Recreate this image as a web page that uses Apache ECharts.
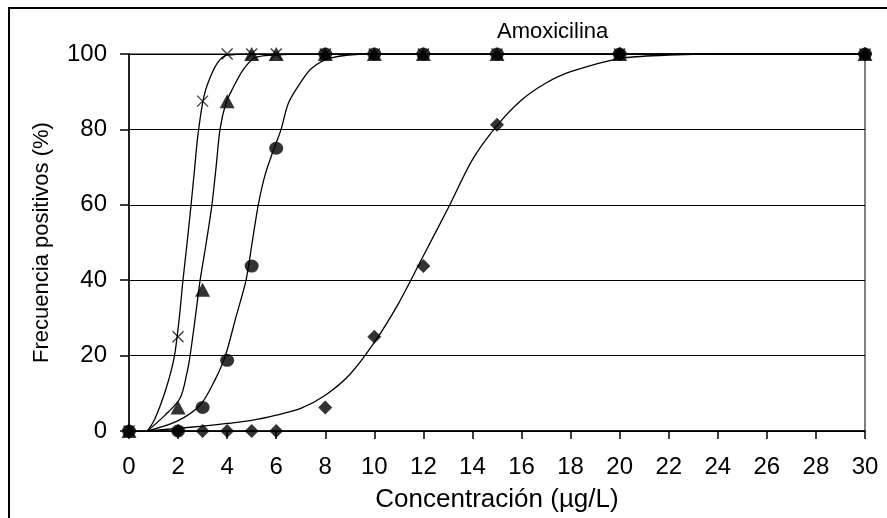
<!DOCTYPE html>
<html>
<head>
<meta charset="utf-8">
<script src="https://cdn.jsdelivr.net/npm/echarts@6/dist/echarts.min.js"></script>
<style>
html, body { margin: 0; padding: 0; background: #fff; }
#chart { width: 887px; height: 518px; }
</style>
</head>
<body>
<div id="chart"></div>
<script>
// concentraciones ensayadas (µg/L)
var concs = [0, 2, 3, 4, 5, 6, 8, 10, 12, 15, 20, 30];

// frecuencia de positivos (%) por serie
var crossVals    = [0, 25, 87.5, 100, 100, 100, 100, 100, 100, 100, 100, 100];
var triangleVals = [0, 6.25, 37.5, 87.5, 100, 100, 100, 100, 100, 100, 100, 100];
var circleVals   = [0, 0, 6.25, 18.75, 43.75, 75, 100, 100, 100, 100, 100, 100];
var diamondVals  = [0, 0, 0, 0, 0, 0, 6.25, 25, 43.75, 81.25, 100, 100];

// curvas ajustadas [x, y]
var crossCurve = [[0.75, 0], [1.0, 2.5], [1.26, 6.5], [1.5, 11], [1.72, 16], [1.88, 21],
  [2.05, 30], [2.2, 40], [2.37, 50], [2.53, 60], [2.68, 70], [2.8, 78], [3.0, 87], [3.2, 92],
  [3.6, 97.6], [4.0, 99.7], [5, 100], [30, 100]];
var triangleCurve = [[0.75, 0], [1.47, 4.2], [2.08, 8.7], [2.35, 15], [2.49, 20], [2.7, 30],
  [2.9, 40], [3.15, 50], [3.38, 60], [3.55, 70], [3.71, 80], [3.95, 87], [4.2, 90.5],
  [4.65, 95.8], [5.14, 99], [5.9, 99.7], [7, 100], [30, 100]];
var circleCurve = [[0.75, 0], [1.96, 2.6], [2.9, 6.9], [3.5, 13.5], [3.93, 20], [4.35, 30],
  [4.77, 40], [5.02, 50], [5.27, 60], [5.55, 68], [5.9, 74.7], [6.2, 80], [6.5, 87],
  [7.05, 93], [7.46, 96.3], [8.2, 98.9], [9.8, 100], [30, 100]];
var diamondCurve = [[0.75, 0], [2, 0.7], [3, 1.3], [4, 2], [5, 2.8], [6, 4.2], [7, 6],
  [8, 9.5], [9, 15], [10, 23.5], [11, 34], [12, 46.5], [13, 59], [14, 72], [15, 81],
  [16, 87.8], [17, 92.3], [18, 95.3], [20, 98.8], [22, 99.7], [24, 100], [30, 100]];

var FONT = 'Liberation Sans';

function pairs(vals) {
  var out = [];
  for (var i = 0; i < concs.length; i++) {
    out.push([concs[i], vals[i]]);
  }
  return out;
}

function curve(data) {
  return {
    type: 'line',
    data: data,
    smooth: 0.3,
    showSymbol: false,
    silent: true,
    lineStyle: { color: '#000', width: 1.3 },
    z: 2
  };
}

function marks(vals, symbol, size, hollow) {
  return {
    type: 'scatter',
    data: pairs(vals),
    symbol: symbol,
    symbolSize: size,
    itemStyle: hollow
      ? { color: 'none', borderColor: '#000', borderWidth: 1.2 }
      : { color: '#000' },
    z: 3
  };
}

var chart = echarts.init(document.getElementById('chart'));
chart.setOption({
  animation: false,
  backgroundColor: '#fff',
  textStyle: { fontFamily: FONT, color: '#000' },
  title: {
    text: 'Amoxicilina',
    left: 492,
    top: 16,
    textStyle: { fontFamily: FONT, fontSize: 22, fontWeight: 'normal', color: '#000' }
  },
  graphic: [{
    type: 'rect',
    shape: { x: 9, y: 8, width: 920, height: 560 },
    style: { fill: 'none', stroke: '#000', lineWidth: 2 },
    silent: true
  }],
  grid: {
    left: 129, right: 22, top: 54, bottom: 85,
    show: true, borderColor: '#000', borderWidth: 1
  },
  xAxis: {
    type: 'value',
    min: 0, max: 30, interval: 2,
    name: 'Concentración (µg/L)',
    nameLocation: 'middle',
    nameGap: 56,
    nameTextStyle: { fontFamily: FONT, fontSize: 26, color: '#000' },
    axisLine: { show: true, lineStyle: { color: '#000', width: 1.5 } },
    axisTick: { show: true, length: 8, lineStyle: { color: '#000', width: 1.5 } },
    axisLabel: { fontFamily: FONT, fontSize: 24, color: '#000', margin: 24 },
    splitLine: { show: false }
  },
  yAxis: {
    type: 'value',
    min: 0, max: 100, interval: 20,
    name: 'Frecuencia positivos (%)',
    nameLocation: 'middle',
    nameGap: 76,
    nameTextStyle: { fontFamily: FONT, fontSize: 22, color: '#000' },
    axisLine: { show: true, lineStyle: { color: '#000', width: 1.5 } },
    axisTick: { show: true, length: 9, lineStyle: { color: '#000', width: 1.5 } },
    axisLabel: { fontFamily: FONT, fontSize: 24, color: '#000', margin: 22 },
    splitLine: { show: true, lineStyle: { color: '#000', width: 1.2 } }
  },
  series: [
    curve(diamondCurve),
    curve(circleCurve),
    curve(triangleCurve),
    curve(crossCurve),
    marks(diamondVals, 'diamond', [14, 14], false),
    marks(circleVals, 'circle', [14, 13], false),
    marks(triangleVals, 'triangle', [15, 14], false),
    marks(crossVals, 'path://M0,0L10,10M10,0L0,10', 11, true)
  ]
});
</script>
</body>
</html>
